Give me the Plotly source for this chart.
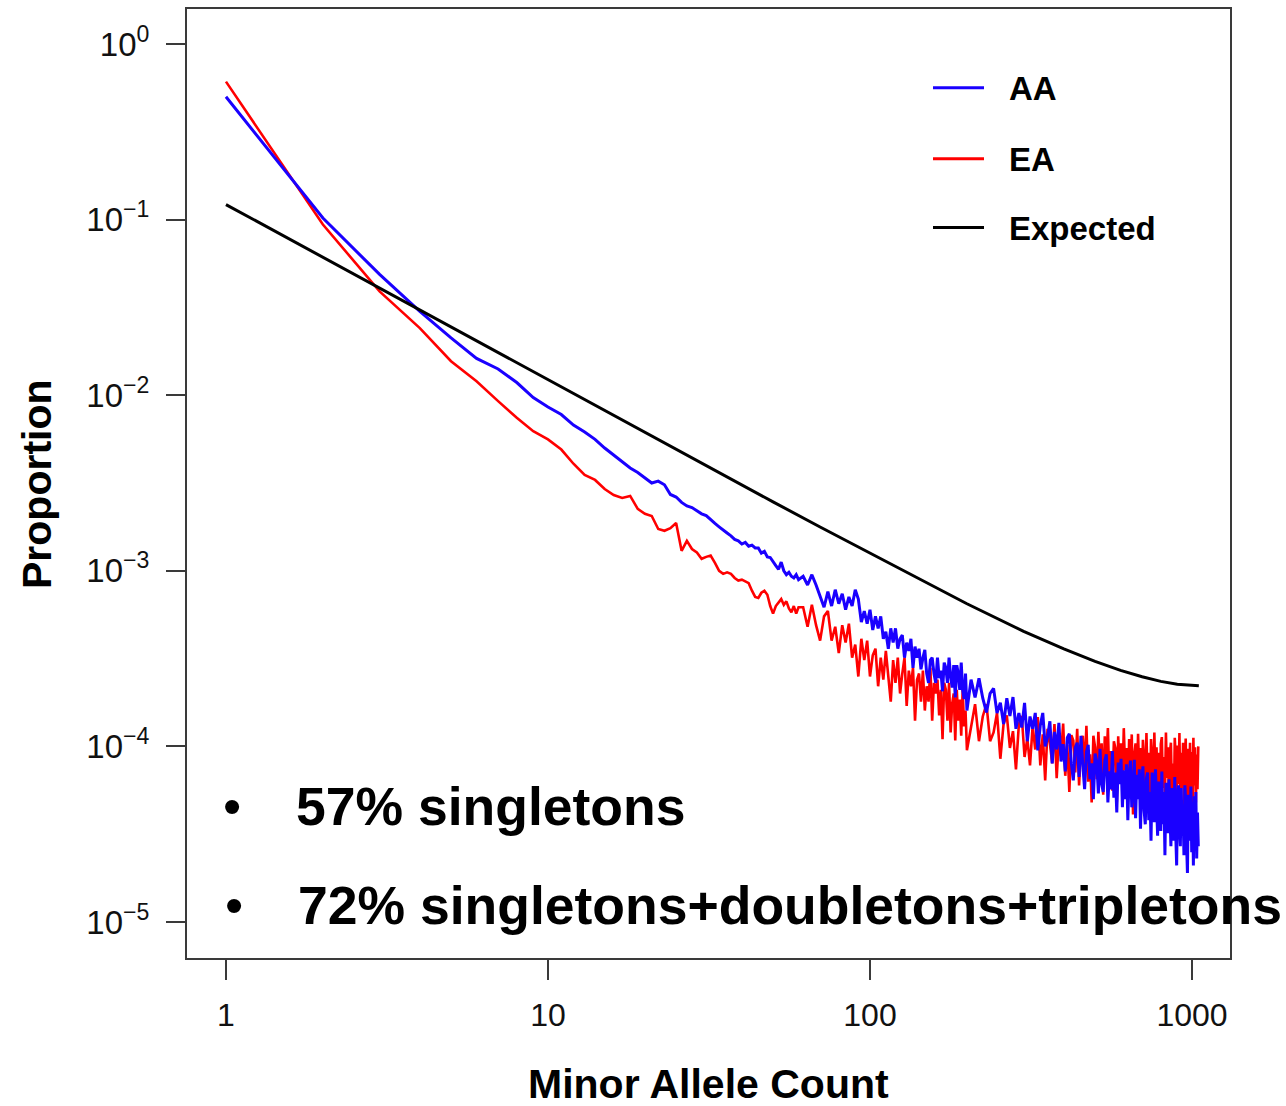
import plotly.graph_objects as go

# ---------------- data ----------------
# minor allele counts at which the AA / EA proportions were read
mac_grid = list(range(1, 61)) + list(range(62, 201, 2)) + list(range(206, 1047, 6))

aa_prop = [
    # x = 1..60
    0.50, 0.102, 0.0487, 0.0300, 0.0212, 0.0162, 0.0141, 0.0118, 0.0097, 0.00857,
    0.00776, 0.00676, 0.00617, 0.0056, 0.0050, 0.00457, 0.00417, 0.00385, 0.00363, 0.00339,
    0.00316, 0.00324, 0.00309, 0.00272, 0.00263, 0.00245, 0.00234, 0.00229, 0.00219, 0.00211,
    0.00206, 0.00195, 0.00186, 0.00178, 0.0017, 0.00164, 0.00158, 0.00151, 0.00148, 0.00142,
    0.00145, 0.00138, 0.0014, 0.00135, 0.00135, 0.00126, 0.00129, 0.0012, 0.00119, 0.00112,
    0.00107, 0.00102, 0.00112, 0.0010, 0.00095, 0.00098, 0.00093, 0.00091, 0.00095, 0.00089,
    # x = 62..200 step 2
    9.3e-4, 8.3e-4, 9.5e-4, 8.3e-4, 7.1e-4, 6.2e-4, 7.6e-4, 6.3e-4, 7.8e-4, 6.5e-4,
    7.4e-4, 6.0e-4, 7.1e-4, 6.3e-4, 7.8e-4, 6.9e-4, 5.1e-4, 5.9e-4, 5.0e-4, 6.0e-4,
    4.6e-4, 5.5e-4, 4.7e-4, 5.5e-4, 4.1e-4, 4.5e-4, 3.6e-4, 4.7e-4, 3.9e-4, 4.7e-4,
    3.6e-4, 4.1e-4, 4.3e-4, 3.2e-4, 3.9e-4, 3.5e-4, 4.1e-4, 2.8e-4, 3.7e-4, 3.2e-4,
    3.6e-4, 2.75e-4, 3.2e-4, 3.55e-4, 2.6e-4, 2.3e-4, 3.1e-4, 3.2e-4, 2.6e-4, 2.3e-4,
    3.2e-4, 2.45e-4, 2.7e-4, 2.06e-4, 3.0e-4, 2.8e-4, 2.3e-4, 3.2e-4, 2.5e-4, 2.16e-4,
    2.9e-4, 1.9e-4, 2.9e-4, 2.6e-4, 2.1e-4, 3.0e-4, 2.1e-4, 1.86e-4, 2.6e-4, 1.6e-4,
    # x = 206..1046 step 6
    2.40e-4, 1.90e-4, 2.44e-4, 1.88e-4, 1.56e-4, 2.00e-4, 2.14e-4, 1.55e-4, 1.77e-4, 1.34e-4,
    1.88e-4, 1.49e-4, 1.91e-4, 1.26e-4, 1.55e-4, 1.28e-4, 1.77e-4, 1.07e-4, 1.48e-4, 1.26e-4,
    1.55e-4, 9.5e-5, 1.32e-4, 1.55e-4, 1.00e-4, 1.13e-4, 1.39e-4, 8.0e-5, 1.21e-4, 9.6e-5,
    1.36e-4, 8.2e-5, 1.03e-4, 7.2e-5, 1.12e-4, 1.18e-4, 8.0e-5, 6.4e-5, 9.8e-5, 1.05e-4,
    6.7e-5, 1.15e-4, 7.8e-5, 5.7e-5, 9.3e-5, 1.02e-4, 6.5e-5, 8.0e-5, 5.0e-5, 9.1e-5,
    8.2e-5, 5.4e-5, 9.7e-5, 6.1e-5, 5.5e-5, 8.3e-5, 9.0e-5, 4.8e-5, 7.2e-5, 5.7e-5,
    9.4e-5, 5.1e-5, 7.1e-5, 4.2e-5, 8.1e-5, 6.1e-5, 8.5e-5, 4.5e-5, 7.3e-5, 5.0e-5,
    7.9e-5, 3.8e-5, 6.9e-5, 8.3e-5, 4.5e-5, 5.5e-5, 8.4e-5, 3.9e-5, 6.9e-5, 5.0e-5,
    7.4e-5, 3.4e-5, 6.2e-5, 7.7e-5, 4.3e-5, 3.6e-5, 6.6e-5, 7.1e-5, 3.8e-5, 5.5e-5,
    2.9e-5, 7.1e-5, 5.8e-5, 3.7e-5, 7.4e-5, 4.1e-5, 3.1e-5, 6.3e-5, 5.3e-5, 3.3e-5,
    7.2e-5, 3.6e-5, 5.5e-5, 2.4e-5, 6.2e-5, 4.7e-5, 3.2e-5, 6.5e-5, 3.6e-5, 2.7e-5,
    5.8e-5, 4.9e-5, 2.9e-5, 6.7e-5, 3.2e-5, 2.1e-5, 5.4e-5, 6.0e-5, 3.5e-5, 2.7e-5,
    5.8e-5, 3.1e-5, 4.4e-5, 2.4e-5, 6.0e-5, 4.9e-5, 2.8e-5, 1.9e-5, 5.3e-5, 4.6e-5,
    2.9e-5, 5.9e-5, 2.5e-5, 4.8e-5, 2.1e-5, 5.2e-5, 3.0e-5, 5.5e-5, 2.3e-5, 4.2e-5, 2.7e-5,
]

ea_prop = [
    # x = 1..60
    0.61, 0.0937, 0.039, 0.0241, 0.0156, 0.0120, 0.00925, 0.00743, 0.00624, 0.0056,
    0.0049, 0.00407, 0.00351, 0.00329, 0.00292, 0.0027, 0.0026, 0.00267, 0.00225, 0.00211,
    0.00205, 0.00173, 0.00169, 0.00175, 0.00187, 0.0013, 0.00148, 0.00133, 0.00127, 0.00117,
    0.0012, 0.00122, 0.00111, 0.0010, 0.00096, 0.00098, 0.00096, 0.00091, 0.00088, 0.00089,
    0.00087, 0.00085, 0.00077, 0.00071, 0.0007, 0.00075, 0.00077, 0.00073, 0.00063, 0.00057,
    0.00063, 0.00066, 0.00069, 0.00064, 0.00067, 0.00061, 0.00058, 0.00063, 0.00057, 0.00062,
    # x = 62..200 step 2
    6.2e-4, 4.8e-4, 6.4e-4, 4.9e-4, 4.0e-4, 5.5e-4, 5.9e-4, 4.0e-4, 4.8e-4, 3.4e-4,
    4.9e-4, 3.9e-4, 5.0e-4, 3.2e-4, 3.8e-4, 2.5e-4, 4.1e-4, 3.1e-4, 4.0e-4, 2.5e-4,
    3.3e-4, 3.6e-4, 2.2e-4, 3.2e-4, 2.4e-4, 3.5e-4, 2.6e-4, 1.8e-4, 3.1e-4, 2.3e-4,
    3.2e-4, 2.0e-4, 2.6e-4, 3.2e-4, 1.7e-4, 2.7e-4, 2.2e-4, 2.8e-4, 1.4e-4, 2.4e-4,
    2.6e-4, 1.8e-4, 2.7e-4, 1.6e-4, 2.2e-4, 1.8e-4, 2.8e-4, 1.4e-4, 2.3e-4, 2.0e-4,
    2.4e-4, 1.5e-4, 2.1e-4, 1.1e-4, 2.3e-4, 2.1e-4, 1.4e-4, 2.3e-4, 1.2e-4, 1.75e-4,
    2.0e-4, 1.08e-4, 2.1e-4, 1.4e-4, 1.85e-4, 1.15e-4, 2.1e-4, 1.3e-4, 1.6e-4, 9.5e-5,
    # x = 206..1046 step 6
    1.29e-4, 1.74e-4, 1.07e-4, 1.48e-4, 1.74e-4, 1.07e-4, 1.20e-4, 1.55e-4, 8.5e-5, 1.35e-4,
    1.50e-4, 9.8e-5, 1.22e-4, 7.4e-5, 1.34e-4, 1.49e-4, 8.7e-5, 1.11e-4, 7.8e-5, 1.31e-4,
    9.6e-5, 1.47e-4, 7.8e-5, 1.17e-4, 6.4e-5, 1.26e-4, 1.04e-4, 8.0e-5, 1.34e-4, 6.6e-5,
    1.12e-4, 8.8e-5, 1.35e-4, 6.8e-5, 1.02e-4, 5.5e-5, 1.16e-4, 1.08e-4, 7.1e-5, 1.26e-4,
    6.0e-5, 9.7e-5, 1.15e-4, 7.2e-5, 1.31e-4, 6.3e-5, 9.0e-5, 4.8e-5, 1.15e-4, 9.9e-5,
    6.5e-5, 1.21e-4, 7.4e-5, 1.04e-4, 5.3e-5, 1.14e-4, 7.9e-5, 1.27e-4, 6.1e-5, 9.4e-5,
    5.6e-5, 1.07e-4, 9.8e-5, 4.8e-5, 1.14e-4, 6.9e-5, 1.04e-4, 6.1e-5, 1.27e-4, 7.3e-5,
    9.8e-5, 5.3e-5, 1.10e-4, 6.4e-5, 1.17e-4, 4.1e-5, 9.0e-5, 1.04e-4, 5.5e-5, 1.18e-4,
    6.8e-5, 9.8e-5, 4.9e-5, 1.09e-4, 8.3e-5, 5.7e-5, 1.19e-4, 6.1e-5, 9.2e-5, 4.4e-5,
    1.10e-4, 8.5e-5, 5.5e-5, 1.20e-4, 6.3e-5, 9.9e-5, 5.1e-5, 9.2e-5, 3.7e-5, 1.03e-4,
    1.13e-4, 5.8e-5, 8.7e-5, 5.1e-5, 1.20e-4, 6.6e-5, 9.9e-5, 4.6e-5, 9.2e-5, 1.05e-4,
    5.5e-5, 8.0e-5, 4.0e-5, 1.12e-4, 8.7e-5, 5.2e-5, 1.01e-4, 6.1e-5, 1.19e-4, 4.7e-5,
    9.2e-5, 5.8e-5, 1.05e-4, 4.3e-5, 8.1e-5, 1.11e-4, 5.2e-5, 9.7e-5, 3.3e-5, 8.6e-5,
    1.05e-4, 5.5e-5, 9.3e-5, 4.5e-5, 1.12e-4, 6.0e-5, 9.9e-5, 4.8e-5, 9.0e-5, 5.7e-5, 1.00e-4,
]

expected_mac = [1, 2, 3, 5, 7, 10, 15, 20, 30, 50, 70, 100, 150, 200, 300, 400, 500,
                600, 700, 800, 900, 1000, 1050]
expected_prop = [0.1217, 0.0609, 0.0406, 0.0244, 0.01744, 0.0122, 0.00814, 0.00611, 0.004085,
                 0.002468, 0.001776, 0.001258, 0.00085, 0.000649, 0.000452, 0.000359, 0.000305,
                 0.000271, 0.000249, 0.0002345, 0.0002259, 0.0002217, 0.0002213]

x_tick_vals = [1, 10, 100, 1000]
x_tick_text = ["1", "10", "100", "1000"]
y_tick_vals = [1, 0.1, 0.01, 0.001, 0.0001, 0.00001]
y_tick_text = ["10<sup>0</sup>", "10<sup>\u22121</sup>", "10<sup>\u22122</sup>",
               "10<sup>\u22123</sup>", "10<sup>\u22124</sup>", "10<sup>\u22125</sup>"]

legend_names = ["AA", "EA", "Expected"]
legend_colors = ["#1a00ff", "#ff0000", "#000000"]
notes = ["57% singletons", "72% singletons+doubletons+tripletons"]

# ---------------- figure ----------------
FONT = "Liberation Sans, Arial, Helvetica, sans-serif"
fig = go.Figure()
fig.add_trace(go.Scatter(x=mac_grid, y=ea_prop, mode="lines", name="EA",
                         line=dict(color=legend_colors[1], width=2.6)))
fig.add_trace(go.Scatter(x=mac_grid, y=aa_prop, mode="lines", name="AA",
                         line=dict(color=legend_colors[0], width=3.0)))
fig.add_trace(go.Scatter(x=expected_mac, y=expected_prop, mode="lines", name="Expected",
                         line=dict(color=legend_colors[2], width=3)))

L, R, T, B = 187, 1230, 7, 958
W, H = 1286, 1106
PW, PH = R - L, B - T


def px(xp):
    return (xp - L) / PW


def py(yp):
    return (B - yp) / PH


fig.update_layout(
    width=W, height=H,
    margin=dict(l=L, r=W - R, t=T, b=H - B),
    paper_bgcolor="white", plot_bgcolor="white",
    showlegend=False,
    font=dict(family=FONT, color="#000000"),
)
axis_common = dict(type="log", showgrid=False, zeroline=False, showline=True, mirror=True,
                   linecolor="#3a3a3a", linewidth=2, ticks="outside", tickwidth=1.6,
                   tickcolor="#3a3a3a")
fig.update_xaxes(range=[-0.121, 3.118], tickvals=x_tick_vals, ticktext=x_tick_text,
                 ticklen=20, ticklabelstandoff=8,
                 tickfont=dict(family=FONT, size=32, color="#111111"), **axis_common)
fig.update_yaxes(range=[-5.205, 0.199], tickvals=y_tick_vals, ticktext=y_tick_text,
                 ticklen=19, ticklabelstandoff=10,
                 tickfont=dict(family=FONT, size=33, color="#111111"), **axis_common)

ann = []
# axis titles
ann.append(dict(text="<b>Minor Allele Count</b>", x=0.5, y=py(1084), xref="paper", yref="paper",
                xanchor="center", yanchor="middle", showarrow=False,
                font=dict(family=FONT, size=41, color="#000")))
ann.append(dict(text="<b>Proportion</b>", x=px(37), y=py(483), xref="paper", yref="paper",
                xanchor="center", yanchor="middle", textangle=-90, showarrow=False,
                font=dict(family=FONT, size=41, color="#000")))
# legend
leg_y = [86, 157, 226]
shapes = []
for name, col, yy in zip(legend_names, legend_colors, leg_y):
    shapes.append(dict(type="line", xref="paper", yref="paper", x0=px(933), x1=px(984),
                       y0=py(yy), y1=py(yy), line=dict(color=col, width=3)))
    ann.append(dict(text="<b>" + name + "</b>", x=px(1007), y=py(yy + 1), xref="paper", yref="paper",
                    xanchor="left", yanchor="middle", showarrow=False,
                    font=dict(family=FONT, size=33, color="#000")))
# bullet notes
note_y = [806, 905]
note_x = [294, 296]
bullet_x = [232, 234]
for t, yy, xx, bx in zip(notes, note_y, note_x, bullet_x):
    ann.append(dict(text="\u2022", x=px(bx), y=py(yy), xref="paper", yref="paper",
                    xanchor="center", yanchor="middle", showarrow=False,
                    font=dict(family=FONT, size=52, color="#000")))
    ann.append(dict(text="<b>" + t + "</b>", x=px(xx), y=py(yy), xref="paper", yref="paper",
                    xanchor="left", yanchor="middle", showarrow=False,
                    font=dict(family=FONT, size=53.5, color="#000")))

fig.update_layout(annotations=ann, shapes=shapes)
fig.write_html("out.html", config={"displayModeBar": False},
               post_script="document.body.style.margin='0';document.body.style.padding='0';")
